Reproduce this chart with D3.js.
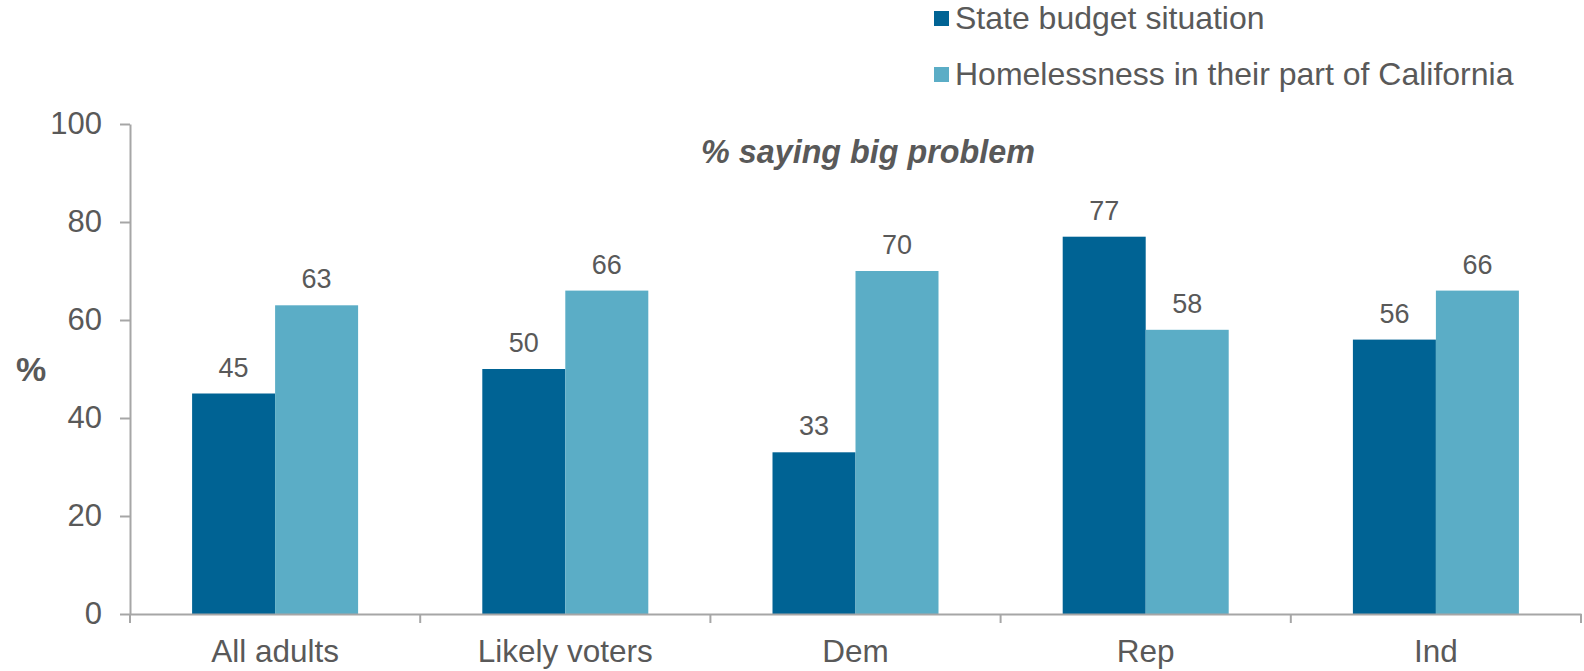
<!DOCTYPE html>
<html>
<head>
<meta charset="utf-8">
<script src="https://cdn.jsdelivr.net/npm/d3@7"></script>
<style>
  html, body { margin: 0; padding: 0; background: #fff; }
  svg { display: block; font-family: "Liberation Sans", Arial, sans-serif; }
</style>
</head>
<body>
<svg id="chart" width="1584" height="671"></svg>
<script>
const categories = ["All adults", "Likely voters", "Dem", "Rep", "Ind"];
const seriesNames = ["State budget situation", "Homelessness in their part of California"];
const budgetValues = [45, 50, 33, 77, 56];
const homelessValues = [63, 66, 70, 58, 66];
const yTicks = [0, 20, 40, 60, 80, 100];
const subtitle = "% saying big problem";
const yLabel = "%";

const colors = ["#006394", "#5BADC6"];
const textColor = "#595959";
const axisColor = "#A6A6A6";

const svg = d3.select("#chart");
const margin = { left: 130, right: 3, top: 124, bottom: 57 };
const W = 1584, H = 671;

const x = d3.scaleBand().domain(categories).range([margin.left, W - margin.right]).paddingInner(0).paddingOuter(0);
const y = d3.scaleLinear().domain([0, 100]).range([H - margin.bottom, margin.top]);
const barW = 83;
const series = [budgetValues, homelessValues];

// bars
series.forEach((vals, si) => {
  svg.append("g").selectAll("rect").data(categories).join("rect")
    .attr("x", (d) => x(d) + x.bandwidth() / 2 - barW + si * barW)
    .attr("y", (d, i) => y(vals[i]))
    .attr("width", barW)
    .attr("height", (d, i) => y(0) - y(vals[i]))
    .attr("fill", colors[si]);
  svg.append("g").selectAll("text").data(categories).join("text")
    .attr("x", (d) => x(d) + x.bandwidth() / 2 - barW / 2 + si * barW)
    .attr("y", (d, i) => y(vals[i]) - 17)
    .attr("text-anchor", "middle")
    .attr("font-size", 27)
    .attr("fill", textColor)
    .text((d, i) => vals[i]);
});

// y axis
const yAxis = d3.axisLeft(y).tickValues(yTicks).tickSize(10).tickPadding(18).tickSizeOuter(0);
const gy = svg.append("g").attr("transform", `translate(${margin.left},0)`).call(yAxis);
gy.select(".domain").attr("stroke", axisColor).attr("stroke-width", 2);
gy.selectAll(".tick line").attr("stroke", axisColor).attr("stroke-width", 2);
gy.selectAll(".tick text").attr("font-size", 31).attr("fill", textColor)
  .attr("font-family", "Liberation Sans, Arial, sans-serif");

// x axis
const xAxis = d3.axisBottom(x).tickSize(0).tickPadding(0);
const gx = svg.append("g").attr("transform", `translate(0,${y(0)})`).call(xAxis);
gx.select(".domain").attr("stroke", axisColor).attr("stroke-width", 2);
gx.selectAll(".tick text").attr("font-size", 31.5).attr("fill", textColor)
  .attr("font-family", "Liberation Sans, Arial, sans-serif")
  .attr("dy", 0).attr("y", 48);
// category separator ticks
const bounds = categories.map((c) => x(c)).concat([x(categories[categories.length - 1]) + x.bandwidth()]);
gx.append("g").selectAll("line").data(bounds).join("line")
  .attr("x1", (d) => d).attr("x2", (d) => d)
  .attr("y1", 0).attr("y2", 9)
  .attr("stroke", axisColor).attr("stroke-width", 2);

// subtitle
svg.append("text")
  .attr("x", 868).attr("y", 163)
  .attr("text-anchor", "middle")
  .attr("font-size", 32.3).attr("font-weight", "bold").attr("font-style", "italic")
  .attr("fill", textColor)
  .text(subtitle);

// y label
svg.append("text")
  .attr("x", 31).attr("y", 381)
  .attr("text-anchor", "middle")
  .attr("font-size", 34).attr("font-weight", "bold")
  .attr("fill", textColor)
  .text(yLabel);

// legend
const legend = svg.append("g");
seriesNames.forEach((name, i) => {
  const yy = 11 + i * 56;
  legend.append("rect").attr("x", 934).attr("y", yy).attr("width", 15).attr("height", 15).attr("fill", colors[i]);
  legend.append("text").attr("x", 955).attr("y", yy + 18).attr("font-size", 32).attr("fill", textColor).text(name);
});
</script>
</body>
</html>
